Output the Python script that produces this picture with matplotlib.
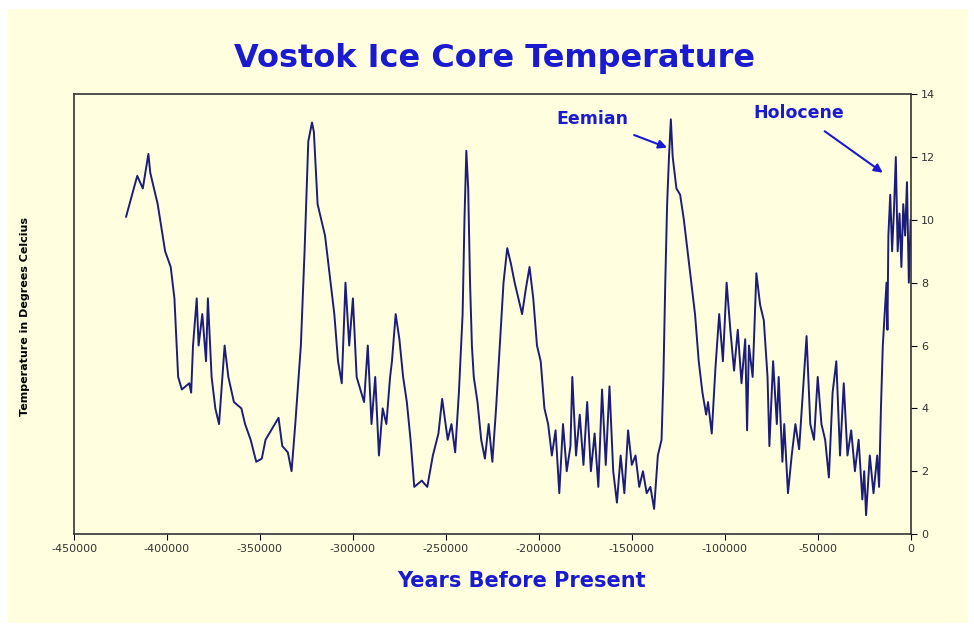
import matplotlib
matplotlib.use("Agg")
import matplotlib.pyplot as plt
from matplotlib.patches import Rectangle

# Years before present (negative) and temperature values
years = [
    -422000, -416000, -413000, -410000, -409000, -405000, -401000, -398000, -396000, -394000,
    -392000, -388000, -387000, -386000, -384000, -383000, -381000, -379000, -378000, -376000,
    -374000, -372000, -369000, -367000, -364000, -360000, -358000, -355000, -352000, -349000,
    -347000, -344000, -340000, -338000, -335000, -333000, -331000, -328000, -326000, -324000,
    -322000, -321000, -319000, -317000, -315000, -312000, -310000, -308000, -306000, -304000,
    -302000, -300000, -298000, -294000, -292000, -290000, -288000, -286000, -284000, -282000,
    -280000, -279000, -277000, -275000, -273000, -271000, -269000, -267000, -263000, -260000,
    -257000, -254000, -252000, -249000, -247000, -245000, -243000, -241000, -240000, -239000,
    -238000, -237000, -236000, -235000, -233000, -231000, -229000, -227000, -225000, -223000,
    -221000, -219000, -217000, -215000, -213000, -211000, -209000, -207000, -205000, -203000,
    -201000, -199000, -197000, -195000, -193000, -191000, -189000, -187000, -185000, -183000,
    -182000, -180000, -178000, -176000, -174000, -172000, -170000, -168000, -166000, -164000,
    -162000, -160000, -158000, -156000, -154000, -152000, -150000, -148000, -146000, -144000,
    -142000, -140000, -138000, -136000, -134000, -133000, -132000, -131000, -130000, -129000,
    -128000, -126000, -124000, -122000, -120000, -118000, -116000, -114000, -112000, -110000,
    -109000, -107000, -105000, -103000, -101000, -99000, -97000, -95000, -93000, -91000,
    -89000, -88000, -87000, -85000, -83000, -81000, -79000, -77000, -76000, -74000,
    -72000, -71000, -69000, -68000, -66000, -64000, -62000, -60000, -58000, -56000,
    -54000, -52000, -50000, -48000, -46000, -44000, -42000, -40000, -38000, -36000,
    -34000, -32000, -30000, -28000, -26000, -25000, -24000, -22000, -20000, -18000,
    -17000, -16000, -15000, -14000, -13000, -12500, -12000, -11000, -10000, -9000,
    -8000, -7000, -6000, -5000, -4000, -3000, -2000, -1000, 0,
]
temps = [
    10.1, 11.4, 11.0, 12.1, 11.5, 10.5, 9.0, 8.5, 7.5, 5.0,
    4.6, 4.8, 4.5, 6.0, 7.5, 6.0, 7.0, 5.5, 7.5, 5.0,
    4.0, 3.5, 6.0, 5.0, 4.2, 4.0, 3.5, 3.0, 2.3, 2.4,
    3.0, 3.3, 3.7, 2.8, 2.6, 2.0, 3.5, 6.0, 9.0, 12.5,
    13.1, 12.8, 10.5, 10.0, 9.5, 8.0, 7.0, 5.5, 4.8, 8.0,
    6.0, 7.5, 5.0, 4.2, 6.0, 3.5, 5.0, 2.5, 4.0, 3.5,
    5.0, 5.5, 7.0, 6.2, 5.0, 4.2, 3.0, 1.5, 1.7, 1.5,
    2.5, 3.2, 4.3, 3.0, 3.5, 2.6, 4.5, 7.0, 10.0, 12.2,
    11.0, 8.0, 6.0, 5.0, 4.2, 3.0, 2.4, 3.5, 2.3, 4.0,
    6.0, 8.0, 9.1, 8.6, 8.0, 7.5, 7.0, 7.8, 8.5, 7.5,
    6.0, 5.5, 4.0, 3.5, 2.5, 3.3, 1.3, 3.5, 2.0, 2.8,
    5.0, 2.5, 3.8, 2.2, 4.2, 2.0, 3.2, 1.5, 4.6, 2.2,
    4.7, 2.0, 1.0, 2.5, 1.3, 3.3, 2.2, 2.5, 1.5, 2.0,
    1.3, 1.5, 0.8, 2.5, 3.0, 5.0, 8.0, 10.5, 12.0, 13.2,
    12.0, 11.0, 10.8, 10.0, 9.0, 8.0, 7.0, 5.5, 4.5, 3.8,
    4.2, 3.2, 5.3, 7.0, 5.5, 8.0, 6.5, 5.2, 6.5, 4.8,
    6.2, 3.3, 6.0, 5.0, 8.3, 7.3, 6.8, 5.0, 2.8, 5.5,
    3.5, 5.0, 2.3, 3.5, 1.3, 2.5, 3.5, 2.7, 4.5, 6.3,
    3.5, 3.0, 5.0, 3.5, 3.0, 1.8, 4.5, 5.5, 2.5, 4.8,
    2.5, 3.3, 2.0, 3.0, 1.1, 2.0, 0.6, 2.5, 1.3, 2.5,
    1.5, 4.0, 6.0, 7.0, 8.0, 6.5, 9.5, 10.8, 9.0, 10.3,
    12.0, 9.0, 10.2, 8.5, 10.5, 9.5, 11.2, 8.0, 10.0,
]

x_ticks = [-450000, -400000, -350000, -300000, -250000, -200000, -150000, -100000, -50000, 0]
y_ticks = [0, 2, 4, 6, 8, 10, 12, 14]

cream = "#ffffe0"
blue = "#1a1ad0"
line_color = "#1c1c7a"

fig = plt.figure(figsize=(9.74, 6.32), dpi=100)
fig.patch.set_facecolor("white")
fig.patches.append(Rectangle((0.008, 0.014), 0.986, 0.972, transform=fig.transFigure,
                             facecolor=cream, edgecolor="none", zorder=-10))

ax = fig.add_axes([0.076, 0.155, 0.859, 0.696])
ax.set_facecolor(cream)
ax.plot(years, temps, color=line_color, linewidth=1.4)

ax.set_xlim(-450000, 0)
ax.set_ylim(0, 14)
ax.set_xticks(x_ticks)
ax.set_xticklabels([str(t) for t in x_ticks], fontsize=8, color="#333333")
ax.set_yticks(y_ticks)
ax.yaxis.tick_right()
ax.tick_params(axis="y", labelsize=8, labelcolor="#333333", direction="out", length=4)
ax.tick_params(axis="x", direction="out", length=4)
for s in ax.spines.values():
    s.set_color("#333333")
    s.set_linewidth(1.2)

ax.set_xlabel("Years Before Present", fontsize=15, fontweight="bold", color=blue, labelpad=6)
ax.xaxis.set_label_coords(0.535, -0.085)
fig.text(0.026, 0.5, "Temperature in Degrees Celcius", rotation=90, fontsize=8,
         fontweight="bold", va="center", ha="center", color="black")
fig.text(0.508, 0.907, "Vostok Ice Core Temperature", fontsize=23, fontweight="bold",
         color=blue, ha="center", va="center")

ax.annotate("Eemian", xy=(-131000, 12.3), xytext=(-171000, 13.2), fontsize=12.5,
            fontweight="bold", color=blue, ha="center", va="center",
            arrowprops=dict(arrowstyle="-|>", color=blue, lw=1.5, shrinkB=0,
                            shrinkA=8))
ax.annotate("Holocene", xy=(-15000, 11.5), xytext=(-60000, 13.4), fontsize=12.5,
            fontweight="bold", color=blue, ha="center", va="center",
            arrowprops=dict(arrowstyle="-|>", color=blue, lw=1.5, shrinkB=0,
                            shrinkA=8))

fig.savefig("out.png", dpi=100, facecolor=fig.get_facecolor())
